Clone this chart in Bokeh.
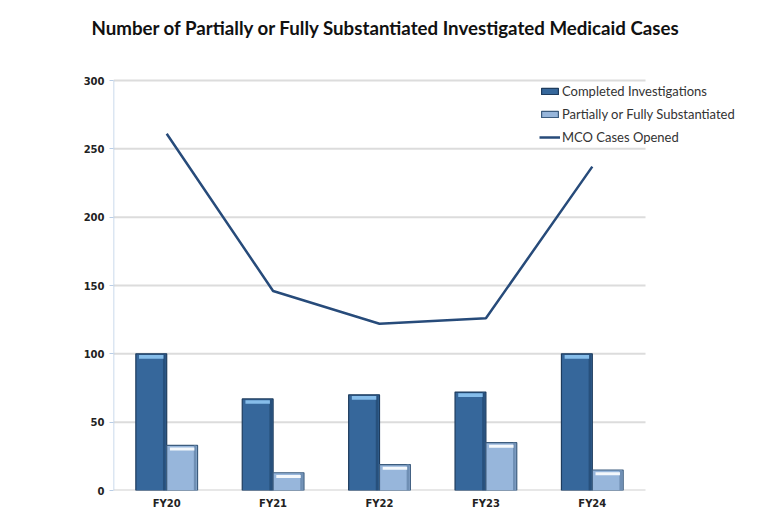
from bokeh.plotting import figure
from bokeh.models import (ColumnDataSource, Range1d, FixedTicker, Title, Legend, LegendItem)
from bokeh.embed import file_html
from bokeh.resources import INLINE

categories = ["FY20", "FY21", "FY22", "FY23", "FY24"]
completed = [100, 67, 70, 72, 100]
substantiated = [33, 13, 19, 35, 15]
mco_opened = [261, 146, 122, 126, 237]
y_ticks = [0, 50, 100, 150, 200, 250, 300]

BW = 0.29
EDGE = 0.025
N = len(categories)
xc = [i + 0.5 for i in range(N)]

src = ColumnDataSource(dict(
    xc=xc,
    xl=[x - BW / 2 for x in xc],
    xr=[x + BW / 2 for x in xc],
    xl_edge=[x - EDGE / 2 - 0.01 for x in xc],
    xr_edge=[x + BW - EDGE / 2 - 0.01 for x in xc],
    completed=completed,
    substantiated=substantiated,
    mco=mco_opened,
    c_hl_top=[v - 0.9 for v in completed],
    c_hl_bot=[v - 3.6 for v in completed],
    s_hl_top=[v - 1.6 for v in substantiated],
    s_hl_bot=[v - 3.8 for v in substantiated],
))

PX_PER_CAT = 106.4
PX_PER_UNIT = 410 / 300
W, H = 752, 515
LEFT, BOTTOM, TOP = 113, 25, 50
x_end = (W - LEFT) / PX_PER_CAT
y_end = (H - BOTTOM - TOP) / PX_PER_UNIT

p = figure(width=W, height=H, output_backend="svg", toolbar_location=None,
           x_range=Range1d(0, x_end), y_range=Range1d(0, y_end),
           min_border_left=LEFT, min_border_right=0, min_border_top=TOP,
           min_border_bottom=BOTTOM, title=None)
p.outline_line_color = None
p.background_fill_color = "white"
p.border_fill_color = "white"
p.xgrid.grid_line_color = None
p.ygrid.grid_line_color = None

title = Title(text="Number of Partially or Fully Substantiated Investigated Medicaid Cases",
              text_font="Lato", text_font_style="bold", text_font_size="18.7px",
              text_color="#111111", align="left", offset=-22, vertical_align="middle",
              standoff=21)
p.add_layout(title, "above")

gsrc = ColumnDataSource(dict(y=y_ticks[1:], x0=[0] * (len(y_ticks) - 1), x1=[N] * (len(y_ticks) - 1)))
p.segment(x0="x0", y0="y", x1="x1", y1="y", source=gsrc, line_color="#dcdcdc", line_width=2)
p.segment(x0=[0], y0=[y_ticks[0]], x1=[N], y1=[y_ticks[0]], line_color="#d0d0d0", line_width=2)
p.segment(x0=[0], y0=[y_ticks[0]], x1=[0], y1=[y_ticks[-1]], line_color="#b9cde5", line_width=1.5)

r1 = p.vbar(x="xl", top="completed", width=BW, source=src,
            fill_color="#36679b", line_color="#1e3c5e", line_width=1.2)
p.vbar(x="xl_edge", top="completed", width=EDGE, source=src,
       fill_color="#27507c", line_color=None)
p.vbar(x="xl", top="c_hl_top", bottom="c_hl_bot", width=BW - 0.06, source=src,
       fill_color="#86bdea", line_color=None)
r2 = p.vbar(x="xr", top="substantiated", width=BW, source=src,
            fill_color="#97b6db", line_color="#3c5c7e", line_width=1.2)
p.vbar(x="xr_edge", top="substantiated", width=EDGE, source=src,
       fill_color="#6f8fb4", line_color=None)
p.vbar(x="xr", top="s_hl_top", bottom="s_hl_bot", width=BW - 0.06, source=src,
       fill_color="#f4f8fc", line_color=None)

r3 = p.line(x="xc", y="mco", source=src, line_color="#274b7a", line_width=2.5)

p.yaxis.ticker = FixedTicker(ticks=y_ticks)
p.yaxis.axis_line_color = None
p.yaxis.major_tick_line_color = "#b9cde5"
p.yaxis.major_tick_out = 4
p.yaxis.major_tick_in = 0
p.yaxis.minor_tick_line_color = None
p.yaxis.major_label_text_font = "DejaVu Sans"
p.yaxis.major_label_text_font_style = "bold"
p.yaxis.major_label_text_font_size = "10px"
p.yaxis.major_label_text_color = "#222222"
p.yaxis.major_label_standoff = 5

p.xaxis.ticker = FixedTicker(ticks=xc)
p.xaxis.major_label_overrides = {x: c for x, c in zip(xc, categories)}
p.xaxis.axis_line_color = None
p.xaxis.major_tick_line_color = None
p.xaxis.minor_tick_line_color = None
p.xaxis.major_label_text_font = "DejaVu Sans"
p.xaxis.major_label_text_font_style = "bold"
p.xaxis.major_label_text_font_size = "10px"
p.xaxis.major_label_text_color = "#222222"
p.xaxis.major_label_standoff = 1

legend = Legend(items=[
    LegendItem(label="Completed Investigations", renderers=[r1]),
    LegendItem(label="Partially or Fully Substantiated", renderers=[r2]),
    LegendItem(label="MCO Cases Opened", renderers=[r3]),
], location=(426, 343))
legend.border_line_color = None
legend.background_fill_alpha = 0
legend.label_text_font = "Lato"
legend.label_text_font_size = "13px"
legend.label_text_color = "#333333"
legend.glyph_width = 21
legend.glyph_height = 8
legend.label_standoff = 2
legend.label_height = 20
legend.spacing = 3
legend.padding = 0
legend.margin = 0
p.add_layout(legend, "center")

open("out.html", "w").write(file_html(p, INLINE))
